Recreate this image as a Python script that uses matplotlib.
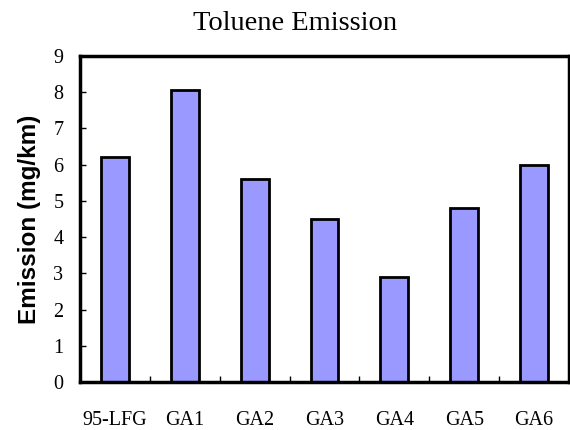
import matplotlib
matplotlib.use('AGG')
import matplotlib.pyplot as plt
import numpy as np

#%% data
fuels = ['95-LFG', 'GA1', 'GA2', 'GA3', 'GA4', 'GA5', 'GA6']
toluene = [6.2, 8.05, 5.6, 4.5, 2.9, 4.8, 6.0]

#%% plot
fig = plt.figure(figsize=(5.7, 4.3), dpi=100)
ax = fig.add_axes([80/570, 1-382/430, 489/570, 326/430])

x = np.arange(len(fuels))
ax.bar(x, toluene, width=0.4, color='#9999FF', edgecolor='k', linewidth=2, zorder=2)

ax.set_xlim(-0.5, len(fuels)-0.5)
ax.set_ylim(0, 9)
ax.set_yticks(range(0, 10))

# category labels at bar centres, tick marks between categories
ax.set_xticks(np.arange(-0.5, len(fuels)), labels=[])
ax.set_xticks(x, labels=fuels, minor=True)
ax.tick_params(axis='x', which='major', direction='in', length=4.5, width=1, color='k')
ax.tick_params(axis='x', which='minor', length=0, pad=21)
ax.tick_params(axis='y', direction='in', length=4.5, width=1, pad=12)

for lab in ax.get_xticklabels(minor=True) + ax.get_yticklabels():
    lab.set_family('Liberation Serif')
    lab.set_fontsize(14.5)

for sp in ax.spines.values():
    sp.set_linewidth(2.5)

ax.set_ylabel('Emission (mg/km)', fontsize=17.5, fontweight='bold',
              family='Liberation Sans', labelpad=9)
fig.text(295/570, 1-30/430, 'Toluene Emission', ha='center', va='baseline',
         fontsize=20.5, family='Liberation Serif')

fig.savefig('out.png', dpi=100)
